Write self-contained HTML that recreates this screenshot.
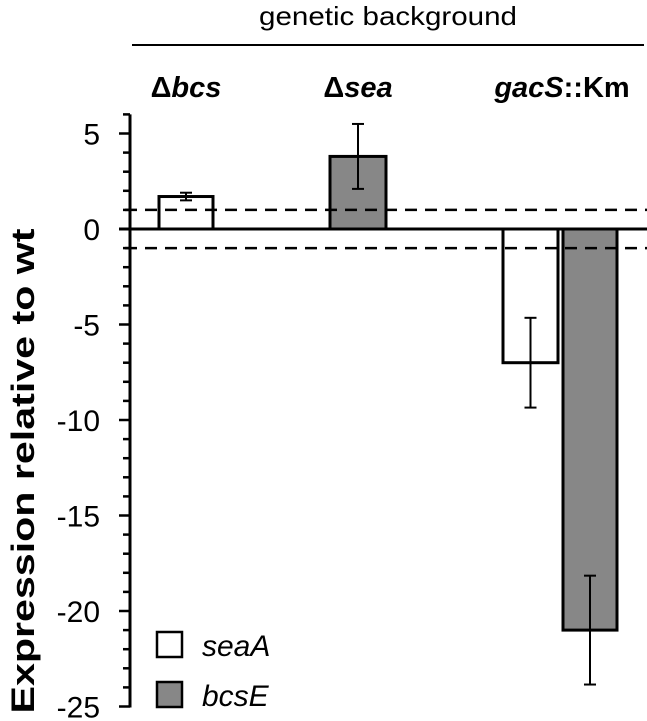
<!DOCTYPE html>
<html><head><meta charset="utf-8"><style>
body{margin:0;background:#fff;}
svg{display:block;font-family:"Liberation Sans",sans-serif;}
</style></head><body>
<svg id="chart" width="647" height="721"></svg>
<script>
const groups=["Δbcs","Δsea","gacS::Km"];
const seaAValues=[1.7,null,-7.0];
const seaAErr=[0.2,null,2.35];
const bcsEValues=[null,3.8,-21.0];
const bcsEErr=[null,1.7,2.85];
const yTicks=[5,0,-5,-10,-15,-20,-25];
const svg=document.getElementById('chart');
const NS="http://www.w3.org/2000/svg";
function y(v){return 229+(0-v)*19.1;}
function el(tag,attrs,parent){const e=document.createElementNS(NS,tag);for(const k in attrs)e.setAttribute(k,attrs[k]);(parent||svg).appendChild(e);return e;}
let t=el('text',{x:388,y:25,'text-anchor':'middle','font-size':26,textLength:258,lengthAdjust:'spacingAndGlyphs'});t.textContent='genetic background';


let hl=el('line',{x1:132,x2:644,y1:45,y2:45,stroke:'#000','stroke-width':2});


const gLabelX=[186,358,562];
const gl=[['Δ','bcs',''],['Δ','sea',''],['','gacS','::Km']];
gl.forEach((p,i)=>{const tx=el('text',{x:gLabelX[i],y:97,'text-anchor':'middle','font-size':29,'font-weight':'bold'});
 
 
 if(p[0]){const a=el('tspan',{},tx);a.textContent=p[0];}
 const b=el('tspan',{'font-style':'italic'},tx);b.textContent=p[1];
 if(p[2]){const c=el('tspan',{},tx);c.textContent=p[2];}
});
let yt=el('text',{x:0,y:0,'text-anchor':'middle','font-size':32,'font-weight':'bold',textLength:485,lengthAdjust:'spacingAndGlyphs',transform:'translate(34,471) rotate(-90)'});
yt.textContent='Expression relative to wt';


for(let v=6;v>=-25;v--){const major=v%5===0;
 const tk=el('line',{x1:major?119:123,x2:130,y1:y(v),y2:y(v),stroke:'#000','stroke-width':2.5});
 
 
}
yTicks.forEach(v=>{const tx=el('text',{x:100,y:y(v)+11,'text-anchor':'end','font-size':30});tx.textContent=String(v);
 
 });
let ax=el('line',{x1:130,x2:130,y1:y(6),y2:y(-25)+1,stroke:'#000','stroke-width':3});


function bar(x0,x1,v,e,fill,name){
 const top=Math.min(y(0),y(v)),h=Math.abs(y(v)-y(0));
 const r=el('rect',{x:x0,y:top,width:x1-x0,height:h,fill:fill,stroke:'#000','stroke-width':3});
 
 
 const cx=(x0+x1)/2;
 const g=el('g',{stroke:'#000','stroke-width':2});
 
 
 el('line',{x1:cx,x2:cx,y1:y(v+e),y2:y(v-e)},g);
 el('line',{x1:cx-6,x2:cx+6,y1:y(v+e),y2:y(v+e)},g);
 el('line',{x1:cx-6,x2:cx+6,y1:y(v-e),y2:y(v-e)},g);
}
if(seaAValues[0]!=null)bar(159,213,seaAValues[0],seaAErr[0],'#fff','bar-seaA-dbcs');
if(bcsEValues[1]!=null)bar(330,386,bcsEValues[1],bcsEErr[1],'#878787','bar-bcsE-dsea');
if(seaAValues[2]!=null)bar(503,558,seaAValues[2],seaAErr[2],'#fff','bar-seaA-gacS');
if(bcsEValues[2]!=null)bar(563,617,bcsEValues[2],bcsEErr[2],'#878787','bar-bcsE-gacS');
let z=el('line',{x1:119,x2:647,y1:y(0),y2:y(0),stroke:'#000','stroke-width':3});


[1,-1].forEach(v=>{const d=el('line',{x1:125,x2:647,y1:y(v),y2:y(v),stroke:'#000','stroke-width':2.5,'stroke-dasharray':'12,8'});
 
 });
[['seaA','#fff',632],['bcsE','#878787',682]].forEach(l=>{
 const r=el('rect',{x:157,y:l[2],width:25,height:25,fill:l[1],stroke:'#000','stroke-width':2.5});
 
 
 const tx=el('text',{x:202,y:l[2]+24,'font-size':30,'font-style':'italic'});tx.textContent=l[0];
 
 
});
</script>
</body></html>
